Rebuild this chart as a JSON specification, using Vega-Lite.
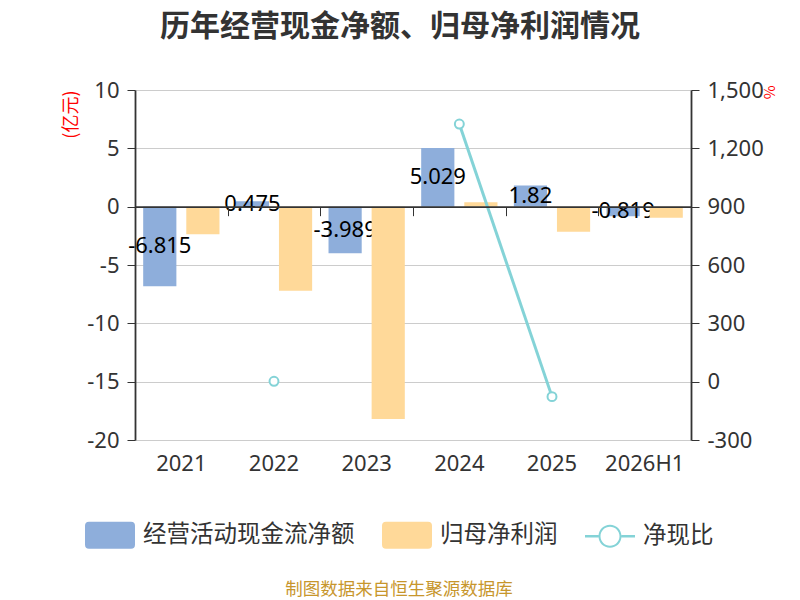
{
  "$schema": "https://vega.github.io/schema/vega-lite/v6.json",
  "width": 556,
  "height": 350,
  "autosize": {"type": "none"},
  "padding": {"left": 135, "top": 90, "right": 109, "bottom": 160},
  "background": "white",
  "title": {
    "text": "历年经营现金净额、归母净利润情况",
    "font": "Noto Sans CJK SC",
    "fontSize": 30,
    "fontWeight": "bold",
    "color": "#333333",
    "anchor": "middle",
    "dx": -13,
    "offset": 37
  },
  "config": {
    "font": "Noto Sans CJK SC",
    "view": {"stroke": null},
    "axis": {"labelFont": "Noto Sans", "labelFontSize": 22, "labelColor": "#333333"}
  },
  "data": {
    "values": [
      {"year": "2021", "series": "经营活动现金流净额", "value": -6.815},
      {"year": "2022", "series": "经营活动现金流净额", "value": 0.475},
      {"year": "2023", "series": "经营活动现金流净额", "value": -3.989},
      {"year": "2024", "series": "经营活动现金流净额", "value": 5.029},
      {"year": "2025", "series": "经营活动现金流净额", "value": 1.82},
      {"year": "2026H1", "series": "经营活动现金流净额", "value": -0.819},
      {"year": "2021", "series": "归母净利润", "value": -2.37},
      {"year": "2022", "series": "归母净利润", "value": -7.2},
      {"year": "2023", "series": "归母净利润", "value": -18.2},
      {"year": "2024", "series": "归母净利润", "value": 0.38},
      {"year": "2025", "series": "归母净利润", "value": -2.14},
      {"year": "2026H1", "series": "归母净利润", "value": -0.94},
      {"year": "2021", "series": "净现比", "value": null},
      {"year": "2022", "series": "净现比", "value": 2},
      {"year": "2023", "series": "净现比", "value": null},
      {"year": "2024", "series": "净现比", "value": 1325},
      {"year": "2025", "series": "净现比", "value": -77},
      {"year": "2026H1", "series": "净现比", "value": null}
    ]
  },
  "layer": [
    {
      "layer": [
        {
          "transform": [{"filter": "datum.series === '经营活动现金流净额'"}],
          "mark": {"type": "bar"},
          "encoding": {
            "x": {
              "field": "year",
              "type": "nominal",
              "scale": {"paddingInner": 0, "paddingOuter": 0},
              "axis": {
                "orient": "bottom",
                "title": null,
                "labelAngle": 0,
                "ticks": false,
                "domain": false,
                "grid": false,
                "labelPadding": 13
              }
            },
            "xOffset": {
              "field": "series",
              "type": "nominal",
              "scale": {"domain": ["经营活动现金流净额", "归母净利润"], "paddingInner": 0.23, "paddingOuter": 0.19}
            },
            "y": {
              "field": "value",
              "type": "quantitative",
              "scale": {"domain": [-20, 10]},
              "axis": {
                "orient": "left",
                "values": [-20, -15, -10, -5, 0, 5, 10],
                "labelExpr": "replace(datum.label, '−', '-')",
                "title": "(亿元)",
                "titleColor": "red",
                "titleFontSize": 18,
                "titleFontWeight": "normal",
                "titleAnchor": "end",
                "titlePadding": 6,
                "domainColor": "#333333",
                "domainWidth": 1.8,
                "tickColor": "#333333",
                "tickSize": 8,
                "labelPadding": 8,
                "gridColor": "#cccccc"
              }
            },
            "color": {
              "field": "series",
              "type": "nominal",
              "scale": {
                "domain": ["经营活动现金流净额", "归母净利润", "净现比"],
                "range": ["#8eaedb", "#ffd999", "#84d3d7"]
              },
              "legend": {
                "orient": "none",
                "legendX": -50,
                "legendY": 420,
                "direction": "horizontal",
                "title": "制图数据来自恒生聚源数据库",
                "titleOrient": "bottom",
                "titleAnchor": "middle",
                "titleColor": "#c7962c",
                "titleFontSize": 17.5,
                "titleFontWeight": "normal",
                "titleLimit": 500,
                "titlePadding": 32,
                "labelFontSize": 23.5,
                "labelColor": "#333333",
                "labelFont": "Noto Sans CJK SC",
                "labelLimit": 300,
                "labelOffset": 8,
                "columnPadding": 27,
                "symbolSize": 2500,
                "encode": {
                  "symbols": {
                    "update": {
                      "shape": {"signal": "datum.value === '净现比' ? 'M-1,-0.05L-0.46,-0.05L-0.46,0.05L-1,0.05ZM0.46,-0.05L1,-0.05L1,0.05L0.46,0.05ZM-0.46,0A0.46,0.46,0,1,1,0.46,0A0.46,0.46,0,1,1,-0.46,0ZM-0.38,0A0.38,0.38,0,1,0,0.38,0A0.38,0.38,0,1,0,-0.38,0Z' : 'M-0.84,-0.54L0.84,-0.54Q1,-0.54,1,-0.38L1,0.38Q1,0.54,0.84,0.54L-0.84,0.54Q-1,0.54,-1,0.38L-1,-0.38Q-1,-0.54,-0.84,-0.54Z'"},
                      "strokeWidth": {"value": 0},
                      "opacity": {"value": 1}
                    }
                  }
                }
              }
            }
          }
        },
        {
          "transform": [{"filter": "datum.series === '经营活动现金流净额'"}],
          "mark": {"type": "text", "fontSize": 22, "color": "#000000", "font": "Noto Sans", "baseline": "middle"},
          "encoding": {
            "x": {"field": "year", "type": "nominal", "axis": null},
            "xOffset": {"field": "series", "type": "nominal"},
            "y": {"field": "value", "type": "quantitative", "scale": {"domain": [-40, 20]}, "axis": null},
            "text": {"field": "value", "type": "nominal"}
          }
        },
        {
          "transform": [{"filter": "datum.series === '归母净利润'"}],
          "mark": {"type": "bar"},
          "encoding": {
            "x": {
              "field": "year",
              "type": "nominal",
              "axis": {
                "orient": "bottom",
                "offset": -233.33,
                "title": null,
                "labels": false,
                "ticks": true,
                "tickBand": "extent",
                "tickSize": 9,
                "tickColor": "#333333",
                "domain": true,
                "domainColor": "#333333",
                "domainWidth": 1.8,
                "grid": false,
                "zindex": 1
              }
            },
            "xOffset": {"field": "series", "type": "nominal"},
            "y": {"field": "value", "type": "quantitative", "scale": {"domain": [-20, 10]}, "axis": null},
            "color": {"field": "series", "type": "nominal"}
          }
        }
      ],
      "resolve": {"axis": {"x": "independent"}, "scale": {"y": "independent"}}
    },
    {
      "transform": [{"filter": "datum.series === '净现比'"}],
      "mark": {
        "type": "line",
        "strokeWidth": 3,
        "invalid": "break-paths-filter-domains",
        "point": {"filled": false, "fill": "#ffffff", "size": 80, "strokeWidth": 2}
      },
      "encoding": {
        "x": {"field": "year", "type": "nominal", "axis": null},
        "y": {
          "field": "value",
          "type": "quantitative",
          "scale": {"domain": [-300, 1500]},
          "axis": {
            "orient": "right",
            "values": [-300, 0, 300, 600, 900, 1200, 1500],
            "format": ",.0f",
            "labelExpr": "replace(datum.label, '−', '-')",
            "grid": false,
            "title": "%",
            "titleColor": "red",
            "titleFontSize": 15,
            "titleFontWeight": "normal",
            "titleAngle": 90,
            "titleAlign": "left",
            "titleBaseline": "middle",
            "titleX": 77,
            "titleY": -5,
            "domainColor": "#333333",
            "domainWidth": 1.8,
            "tickColor": "#333333",
            "tickSize": 8,
            "labelPadding": 8
          }
        },
        "color": {"field": "series", "type": "nominal"}
      }
    }
  ],
  "resolve": {"scale": {"y": "independent"}}
}
